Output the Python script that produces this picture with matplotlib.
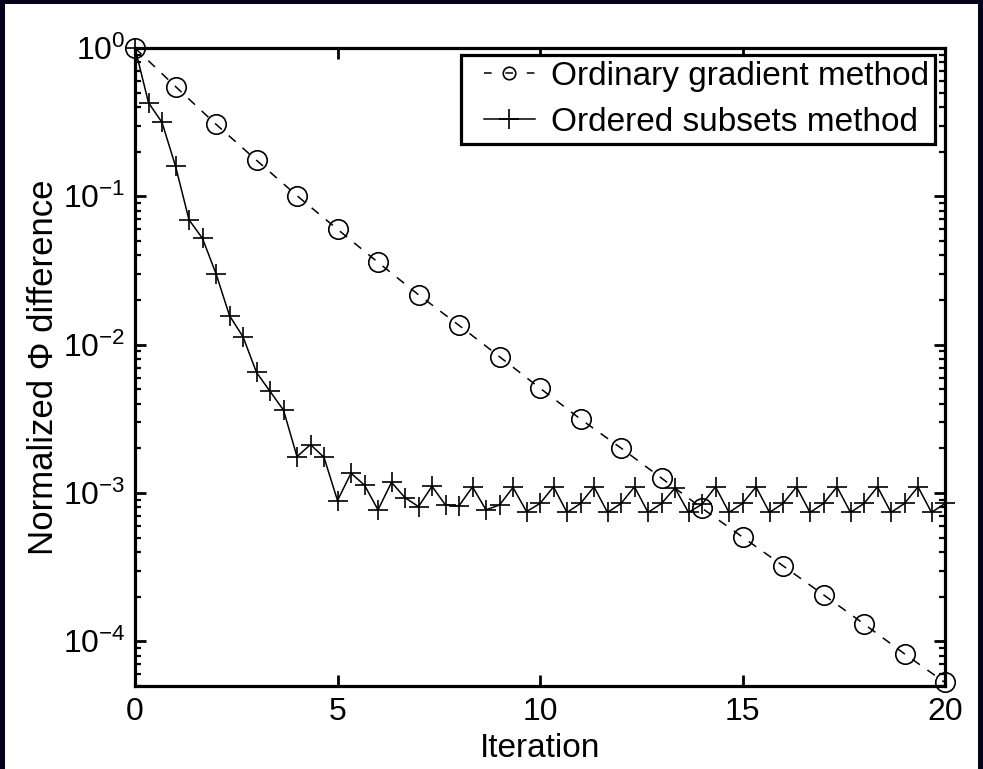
import numpy as np
import matplotlib
matplotlib.use("Agg")
import matplotlib.pyplot as plt
from matplotlib.patches import Rectangle
from matplotlib.ticker import LogLocator, FixedLocator, NullFormatter
from matplotlib.legend_handler import HandlerLine2D

# ---------------- data ----------------
og_iter = [0, 1, 2, 3, 4, 5, 6, 7, 8, 9, 10, 11, 12, 13, 14, 15, 16, 17, 18, 19, 20]
og_vals = [1.0, 0.55, 0.306, 0.175, 0.101, 0.060, 0.0359, 0.0217, 0.0135, 0.0083,
           0.00509, 0.00315, 0.00201, 0.00126, 0.00079, 0.000505, 0.000323,
           0.000206, 0.000131, 0.0000824, 0.0000528]

n_subsets = 3
os_vals = [1.0, 0.428, 0.315, 0.160, 0.0695, 0.052, 0.0301, 0.0157, 0.0113, 0.0065,
           0.00485, 0.00362, 0.00176, 0.00212, 0.00174, 0.00089, 0.00136, 0.00113,
           0.00077, 0.00118, 0.00093, 0.00081, 0.00111, 0.00083, 0.00082, 0.00110,
           0.00077, 0.00083, 0.00109, 0.00075, 0.00085, 0.00110, 0.00074, 0.00085,
           0.00110, 0.00074, 0.00085, 0.00110, 0.00074, 0.00085, 0.00108, 0.00074,
           0.00084, 0.00110, 0.00074, 0.00085, 0.00110, 0.00074, 0.00085, 0.00110,
           0.00074, 0.00085, 0.00110, 0.00074, 0.00085, 0.00110, 0.00074, 0.00085,
           0.00110, 0.00074, 0.00085]
os_iter = np.arange(len(os_vals)) / n_subsets

labels = ["Ordinary gradient method", "Ordered subsets method"]
x_ticks = [0, 5, 10, 15, 20]
x_label = "Iteration"
y_label = "Normalized \u03a6 difference"

# ---------------- style ----------------
plt.rcParams['font.family'] = ['Liberation Sans', 'DejaVu Sans']
plt.rcParams['mathtext.fontset'] = 'custom'
plt.rcParams['mathtext.rm'] = 'Liberation Sans'
plt.rcParams['mathtext.it'] = 'Liberation Sans'
plt.rcParams['mathtext.bf'] = 'Liberation Sans'
TICK_FS = 23
XLAB_FS = 24
YLAB_FS = 25
LEG_FS = 24

fig = plt.figure(figsize=(9.83, 7.69), dpi=100, facecolor='#03031a')
fig.add_artist(Rectangle((5 / 983, 0), 973 / 983, 765 / 769, transform=fig.transFigure,
                         facecolor='white', edgecolor='none', zorder=-10))
ax = fig.add_axes([135 / 983, 1 - 686 / 769, 810 / 983, 638 / 769])

ax.plot(og_iter, og_vals, linestyle=(0, (6, 6)), color='black', linewidth=1.1,
        marker='o', markersize=14, markerfacecolor='none', markeredgewidth=1.2,
        label=labels[0], clip_on=False, zorder=3)
ax.plot(os_iter, os_vals, linestyle='-', color='black', linewidth=1.1,
        marker='+', markersize=15, markeredgewidth=1.2,
        label=labels[1], clip_on=False, zorder=3)

ax.set_yscale('log')
ax.set_xlim(0, 20)
ax.set_ylim(5.0e-5, 1.0)
ax.xaxis.set_major_locator(FixedLocator(x_ticks))
ax.yaxis.set_major_locator(LogLocator(base=10, numticks=10))
ax.yaxis.set_minor_locator(LogLocator(base=10, subs=np.arange(2, 10), numticks=20))
ax.yaxis.set_minor_formatter(NullFormatter())

for s in ax.spines.values():
    s.set_linewidth(2.3)
ax.tick_params(which='major', direction='in', length=8, width=2.0, top=True, right=True,
               labelsize=TICK_FS)
ax.tick_params(axis='x', which='major', pad=8)
ax.tick_params(axis='y', which='major', pad=7)
ax.tick_params(which='minor', direction='in', length=4, width=1.6, top=True, right=True)
ax.tick_params(axis='x', which='minor', length=0)

ax.set_xlabel(x_label, fontsize=XLAB_FS, labelpad=4)
ax.set_ylabel(y_label, fontsize=YLAB_FS, labelpad=2)

hpad = 0.52
leg = ax.legend(loc='upper right', bbox_to_anchor=(935 / 983, 1 - 55 / 769),
                bbox_transform=fig.transFigure, borderaxespad=0,
                fontsize=LEG_FS, frameon=True, fancybox=False,
                edgecolor='black', handlelength=2.05, handletextpad=0.5,
                borderpad=0.17, labelspacing=0.46,
                handler_map={plt.Line2D: HandlerLine2D(xpad=hpad)})
leg.get_frame().set_linewidth(2.3)
leg.get_frame().set_alpha(1)
leg.legend_handles[0].set_markersize(9)
leg.legend_handles[0].set_linestyle((0, (5.0, 9.0)))
leg.legend_handles[1].set_markersize(14)

fig.savefig('out.png', dpi=100, facecolor=fig.get_facecolor())
